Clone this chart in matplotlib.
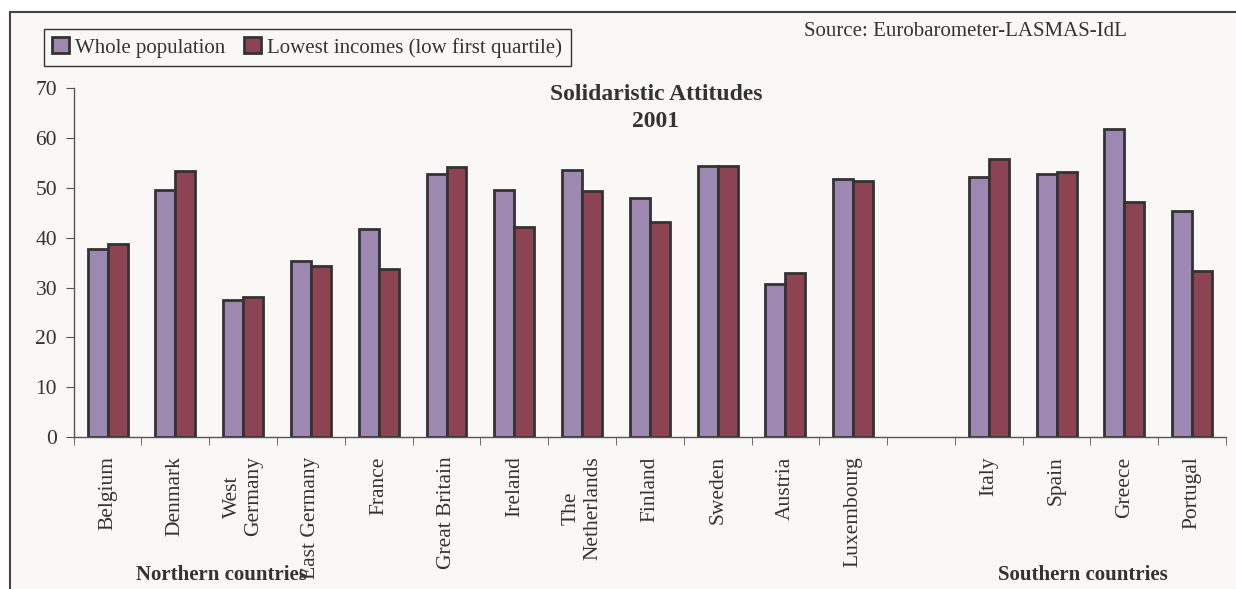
import matplotlib.pyplot as plt
import numpy as np
from matplotlib.patches import Rectangle

plt.rcParams['font.family'] = ['Liberation Serif', 'DejaVu Serif']

north = ['Belgium', 'Denmark', 'West\nGermany', 'East Germany', 'France',
         'Great Britain', 'Ireland', 'The\nNetherlands', 'Finland', 'Sweden',
         'Austria', 'Luxembourg']
south = ['Italy', 'Spain', 'Greece', 'Portugal']

whole_north = [37.8, 49.5, 27.5, 35.3, 41.7, 52.7, 49.5, 53.5, 47.9, 54.5, 30.8, 51.8]
low_north = [38.8, 53.3, 28.1, 34.4, 33.8, 54.2, 42.1, 49.3, 43.1, 54.4, 33.0, 51.4]
whole_south = [52.1, 52.7, 61.8, 45.4]
low_south = [55.8, 53.1, 47.2, 33.4]

purple = '#9d88b2'
maroon = '#8c4453'
edge = '#333333'
bg = '#f9f8f7'

W, H = 1236, 589
fig = plt.figure(figsize=(W / 100, H / 100), dpi=100, facecolor='white')

# outer frame of the chart area
fig.patches.append(Rectangle((10 / W, -0.1), 1.1, 1 - 12 / H + 0.1,
                             transform=fig.transFigure, facecolor=bg,
                             edgecolor='#444444', linewidth=1.5, zorder=-10))

ax = fig.add_axes([73.7 / W, 1 - 437 / H, (1226 - 73.7) / W, (437 - 88.3) / H])
ax.set_facecolor('none')

# one empty slot between the northern and southern groups
x_north = np.arange(len(north))
x_south = np.arange(len(south)) + len(north) + 1
bw = 0.295

ax.bar(x_north - bw / 2, whole_north, bw, color=purple, edgecolor=edge, linewidth=2,
       label='Whole population')
ax.bar(x_north + bw / 2, low_north, bw, color=maroon, edgecolor=edge, linewidth=2,
       label='Lowest incomes (low first quartile)')
ax.bar(x_south - bw / 2, whole_south, bw, color=purple, edgecolor=edge, linewidth=2)
ax.bar(x_south + bw / 2, low_south, bw, color=maroon, edgecolor=edge, linewidth=2)

n_slots = len(north) + 1 + len(south)
ax.set_xlim(-0.5, n_slots - 0.5)
ax.set_ylim(0, 70)
ax.set_yticks(range(0, 71, 10))

for s in ['top', 'right']:
    ax.spines[s].set_visible(False)
for s in ['left', 'bottom']:
    ax.spines[s].set_color('#555555')
    ax.spines[s].set_linewidth(1)

ax.set_xticks(list(x_north) + list(x_south))
ax.set_xticklabels(north + south, rotation=90, va='top', ha='center',
                   multialignment='center')
ax.set_xticks(np.arange(n_slots + 1) - 0.5, minor=True)
ax.tick_params(axis='x', which='major', length=0, pad=14, labelsize=15.5, colors='#333333')
ax.tick_params(axis='x', which='minor', length=6, direction='out', color='#555555')
ax.tick_params(axis='y', length=6, pad=6, direction='out', color='#555555',
               labelsize=15.5, labelcolor='#333333')

fig.text(656 / W, 1 - 84 / H, 'Solidaristic Attitudes\n2001', ha='center', va='top',
         fontsize=17, fontweight='bold', color='#333333', linespacing=1.4)
fig.text(221 / W, 1 - 575 / H, 'Northern countries', ha='center', va='center',
         fontsize=15, fontweight='bold', color='#333333')
fig.text(1083 / W, 1 - 575 / H, 'Southern countries', ha='center', va='center',
         fontsize=15, fontweight='bold', color='#333333')
fig.text(804 / W, 1 - 31 / H, 'Source: Eurobarometer-LASMAS-IdL', ha='left',
         va='center', fontsize=15, color='#333333')

leg = fig.legend(loc='upper left', bbox_to_anchor=(44 / W, 1 - 29 / H), ncol=2,
                 fontsize=15, frameon=True, fancybox=False, edgecolor='#333333',
                 facecolor=bg, framealpha=1, borderaxespad=0, borderpad=0.4,
                 handlelength=0.8, handleheight=0.8, handletextpad=0.3,
                 columnspacing=0.9)
leg.get_frame().set_linewidth(1)
for t in leg.get_texts():
    t.set_color('#333333')

fig.savefig('out.png', dpi=100, facecolor=fig.get_facecolor())
